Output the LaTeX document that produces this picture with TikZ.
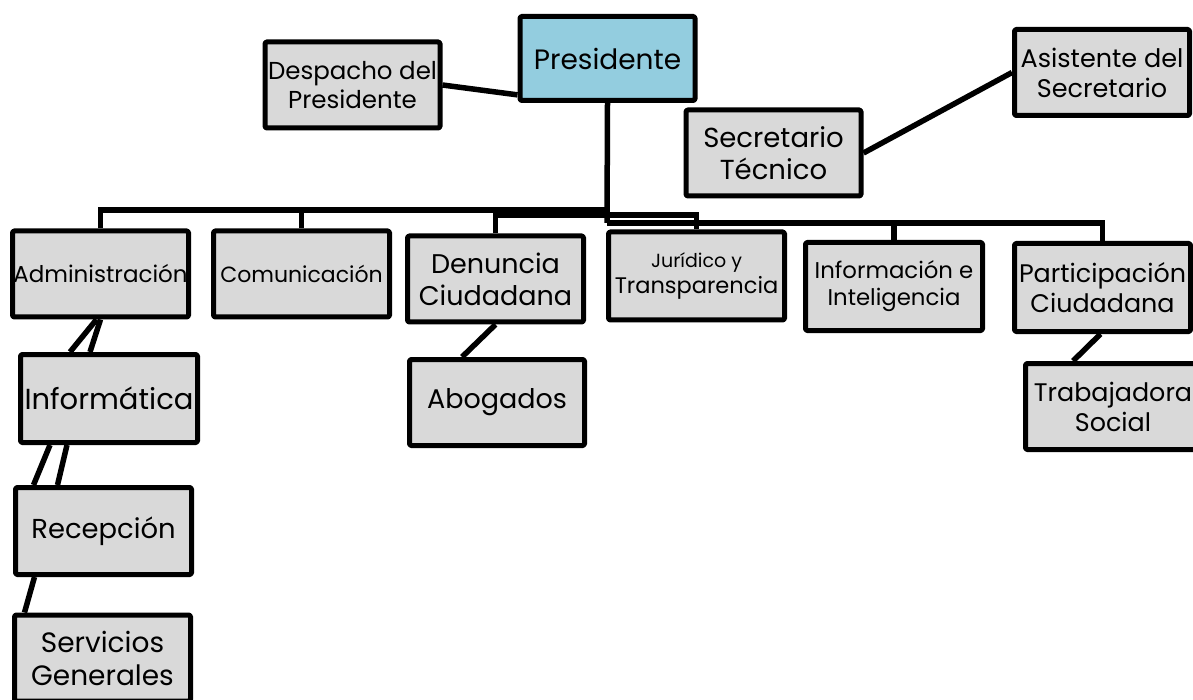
\documentclass[tikz,border=0pt]{standalone}
\usepackage{fontspec}
\setmainfont{Poppins}
\usetikzlibrary{backgrounds}
\definecolor{boxgray}{HTML}{D9D9D9}
\definecolor{presblue}{HTML}{93CDDF}
\newcommand{\fs}[1]{\fontsize{#1}{1.18\dimexpr#1pt\relax}\selectfont}

\begin{document}
\begin{tikzpicture}[x=1pt,y=-1pt, line cap=butt, line join=round,
    box/.style={draw, line width=5pt, fill=boxgray, rounded corners=1.5pt,
      minimum width=175pt, minimum height=86pt, inner sep=0pt, align=center},
    link/.style={line width=5.5pt}]
  \useasboundingbox (0,0) rectangle (1193,700);

  % top level
  \node[box, fill=presblue, minimum height=84pt, font=\fs{28}] (pres) at (607.5,58.5) {Presidente};
  \node[box, font=\fs{24.5}] (desp) at (352.5,85) {Despacho del\\Presidente};
  \node[box, font=\fs{27.5}] (sec) at (773.5,153) {Secretario\\Técnico};
  \node[box, font=\fs{25.5}] (asis) at (1102,72.5) {Asistente del\\Secretario};

  % areas
  \node[box, minimum width=176pt, font=\fs{23}] (admin) at (100.5,274) {Administración};
  \node[box, minimum width=176pt, font=\fs{22}] (com) at (301.5,274) {Comunicación};
  \node[box, minimum width=176pt, font=\fs{27}] (den) at (495.5,279) {Denuncia\\Ciudadana};
  \node[box, minimum width=176pt, minimum height=88pt] (jur) at (696.5,276) {{\fs{19}Jurídico y}\\[2pt]{\fs{22.5}Transparencia}};
  \node[box, minimum width=177pt, minimum height=88pt, font=\fs{22.8}] (info) at (894,286.5) {Información e\\Inteligencia};
  \node[box, minimum width=176pt, minimum height=88pt, font=\fs{25.4}] (part) at (1102.5,287.5) {Participación\\Ciudadana};

  % sub areas
  \node[box, font=\fs{25.4}] (trab) at (1113,406.5) {Trabajadora\\Social};
  \node[box, minimum width=177pt, minimum height=88pt, font=\fs{29}] (inf) at (109,398.5) {Informática};
  \node[box, minimum width=176pt, minimum height=87pt, font=\fs{27.4}] (rec) at (103.5,531) {Recepción};
  \node[box, minimum width=176pt, font=\fs{28}] (serv) at (102.5,658) {Servicios\\Generales};
  \node[box, font=\fs{27}] (abo) at (497,402.5) {Abogados};

  \coordinate (bus1) at (607,210);
  \coordinate (bus2) at (607,215);
  \coordinate (bus3) at (607,223);

  \begin{pgfonlayer}{background}
    \draw[link] (desp.east) -- (pres.202);
    \draw[link] (sec.east) -- (asis.west);
    \draw[link] (pres.south) -- (bus3);
    \draw[link] (admin.north) |- (bus1);
    \draw[link] (com.north) -- (com.north |- bus1);
    \draw[link] (den.north) |- (bus2) -| (jur.north);
    \draw[link] (bus3) -| (info.north);
    \draw[link] (bus3) -| (part.north);
    % chains below
    \draw[link] ([xshift=-4pt]admin.south) -- ([xshift=-39pt]inf.north);
    \draw[link] (admin.south) -- ([xshift=-19pt]inf.north);
    \draw[link] ([xshift=-59pt]inf.south) -- ([xshift=-70pt]rec.north);
    \draw[link] ([xshift=-42pt]inf.south) -- ([xshift=-46pt]rec.north);
    \draw[link] ([xshift=-69pt]rec.south) -- ([xshift=-78pt]serv.north);
    \draw[link] (den.south) -- ([xshift=-35pt]abo.north);
    \draw[link] ([xshift=-2pt]part.south) -- ([xshift=-40pt]trab.north);
  \end{pgfonlayer}
\end{tikzpicture}
\end{document}
